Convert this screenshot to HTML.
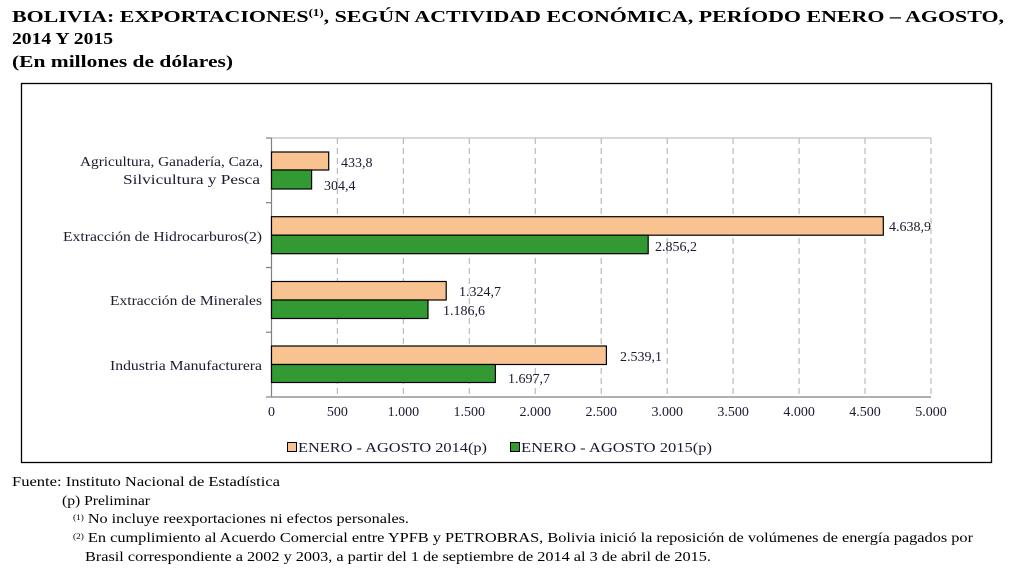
<!DOCTYPE html>
<html><head><meta charset="utf-8"><style>
html,body{margin:0;padding:0;background:#fff}
svg{display:block;font-family:"Liberation Serif",serif}
</style></head><body>
<svg width="1014" height="572" xmlns="http://www.w3.org/2000/svg">
<g font-weight="bold" font-size="17" fill="#000">
<text x="12" y="22" textLength="992" lengthAdjust="spacingAndGlyphs">BOLIVIA: EXPORTACIONES<tspan font-size="10" dy="-6">(1)</tspan><tspan dy="6">, SEGÚN ACTIVIDAD ECONÓMICA, PERÍODO ENERO – AGOSTO,</tspan></text>
<text x="12" y="44" textLength="101" lengthAdjust="spacingAndGlyphs">2014 Y 2015</text>
<text x="12" y="67" textLength="221" lengthAdjust="spacingAndGlyphs">(En millones de dólares)</text>
</g>
<rect x="21.5" y="83.5" width="970" height="379" fill="none" stroke="#000" stroke-width="1.3"/>
<line x1="271.5" y1="138" x2="931" y2="138" stroke="#ccc" stroke-width="1.5"/>
<g stroke="#bbb" stroke-width="1.2" stroke-dasharray="6,4">
<line x1="337.4" y1="138" x2="337.4" y2="397"/><line x1="403.4" y1="138" x2="403.4" y2="397"/>
<line x1="469.3" y1="138" x2="469.3" y2="397"/><line x1="535.3" y1="138" x2="535.3" y2="397"/>
<line x1="601.2" y1="138" x2="601.2" y2="397"/><line x1="667.2" y1="138" x2="667.2" y2="397"/>
<line x1="733.1" y1="138" x2="733.1" y2="397"/><line x1="799.1" y1="138" x2="799.1" y2="397"/>
<line x1="865" y1="138" x2="865" y2="397"/><line x1="931" y1="138" x2="931" y2="397"/>
</g>
<g stroke="#808080" stroke-width="1.2">
<line x1="271.5" y1="138" x2="271.5" y2="397"/><line x1="271.5" y1="397" x2="931" y2="397"/>
<line x1="266" y1="138" x2="271.5" y2="138"/><line x1="266" y1="202.7" x2="271.5" y2="202.7"/>
<line x1="266" y1="267.5" x2="271.5" y2="267.5"/><line x1="266" y1="332.2" x2="271.5" y2="332.2"/>
<line x1="266" y1="397" x2="271.5" y2="397"/>
</g>
<g stroke="#000" stroke-width="1.2">
<rect x="271.5" y="152" width="57.2" height="18" fill="#F9C391"/>
<rect x="271.5" y="170" width="40.1" height="19" fill="#339933"/>
<rect x="271.5" y="216.7" width="611.8" height="18.5" fill="#F9C391"/>
<rect x="271.5" y="235.2" width="376.7" height="18.5" fill="#339933"/>
<rect x="271.5" y="281.5" width="174.7" height="18.5" fill="#F9C391"/>
<rect x="271.5" y="300" width="156.5" height="18.5" fill="#339933"/>
<rect x="271.5" y="346" width="334.9" height="18.5" fill="#F9C391"/>
<rect x="271.5" y="364.5" width="223.9" height="18" fill="#339933"/>
</g>
<g font-size="14" fill="#1a1a33">
<text x="341" y="167">433,8</text><text x="324" y="190">304,4</text>
<text x="889" y="231">4.638,9</text><text x="655" y="251">2.856,2</text>
<text x="459" y="296">1.324,7</text><text x="443" y="315">1.186,6</text>
<text x="620" y="361">2.539,1</text><text x="508" y="383">1.697,7</text>
</g>
<g font-size="14" fill="#1a1a33">
<text x="80" y="166" textLength="183" lengthAdjust="spacingAndGlyphs">Agricultura, Ganadería, Caza,</text>
<text x="123" y="184" textLength="137" lengthAdjust="spacingAndGlyphs">Silvicultura y Pesca</text>
<text x="63" y="241" textLength="199" lengthAdjust="spacingAndGlyphs">Extracción de Hidrocarburos(2)</text>
<text x="110" y="305" textLength="152" lengthAdjust="spacingAndGlyphs">Extracción de Minerales</text>
<text x="110" y="370" textLength="152" lengthAdjust="spacingAndGlyphs">Industria Manufacturera</text>
</g>
<g font-size="14" fill="#1a1a33" text-anchor="middle">
<text x="271.5" y="416">0</text><text x="337.4" y="416">500</text><text x="403.4" y="416">1.000</text>
<text x="469.3" y="416">1.500</text><text x="535.3" y="416">2.000</text><text x="601.2" y="416">2.500</text>
<text x="667.2" y="416">3.000</text><text x="733.1" y="416">3.500</text><text x="799.1" y="416">4.000</text>
<text x="865" y="416">4.500</text><text x="931" y="416">5.000</text>
</g>
<rect x="287.5" y="442.5" width="9" height="9" fill="#F9C391" stroke="#000"/>
<rect x="510.5" y="442.5" width="9" height="9" fill="#339933" stroke="#000"/>
<g font-size="14" fill="#1a1a33">
<text x="298" y="452" textLength="189" lengthAdjust="spacingAndGlyphs">ENERO  - AGOSTO 2014(p)</text>
<text x="521" y="452" textLength="191" lengthAdjust="spacingAndGlyphs">ENERO  - AGOSTO 2015(p)</text>
</g>
<g font-size="14" fill="#000">
<text x="12" y="486" textLength="268" lengthAdjust="spacingAndGlyphs">Fuente: Instituto Nacional de Estadística</text>
<text x="62" y="505" textLength="88" lengthAdjust="spacingAndGlyphs">(p) Preliminar</text>
<text x="73" y="523" textLength="336" lengthAdjust="spacingAndGlyphs"><tspan font-size="8" dy="-3">(1)</tspan><tspan dy="3"> No incluye reexportaciones ni efectos personales.</tspan></text>
<text x="73" y="542" textLength="900" lengthAdjust="spacingAndGlyphs"><tspan font-size="8" dy="-3">(2)</tspan><tspan dy="3"> En cumplimiento al Acuerdo Comercial entre YPFB y PETROBRAS, Bolivia inició la reposición de volúmenes de energía pagados por</tspan></text>
<text x="85" y="561" textLength="626" lengthAdjust="spacingAndGlyphs">Brasil correspondiente a 2002 y 2003, a partir del 1 de septiembre de 2014 al 3 de abril de 2015.</text>
</g>
</svg>
</body></html>
